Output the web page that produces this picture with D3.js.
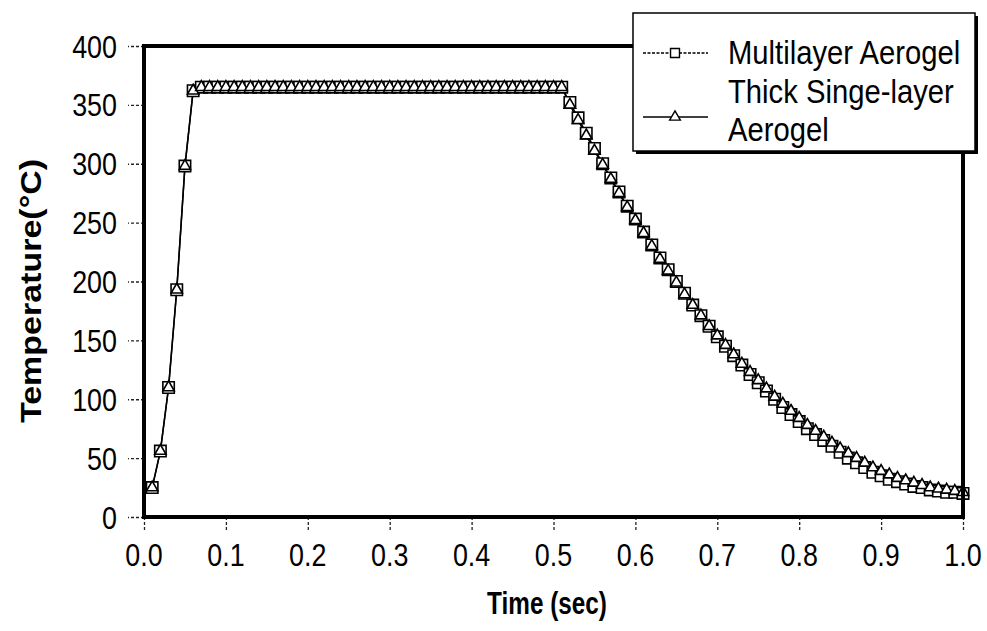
<!DOCTYPE html>
<html>
<head>
<meta charset="utf-8">
<script src="https://cdn.jsdelivr.net/npm/d3@7"></script>
<style>
  html, body { margin: 0; padding: 0; background: #fff; }
  svg { display: block; }
  text { font-family: "Liberation Sans", Arial, sans-serif; fill: #000; }
</style>
</head>
<body>
<svg id="chart" width="987" height="631"></svg>
<script>
// ---------- DATA ----------
const times = [
  0.01,0.02,0.03,0.04,0.05,0.06,0.07,0.08,0.09,0.10,
  0.11,0.12,0.13,0.14,0.15,0.16,0.17,0.18,0.19,0.20,
  0.21,0.22,0.23,0.24,0.25,0.26,0.27,0.28,0.29,0.30,
  0.31,0.32,0.33,0.34,0.35,0.36,0.37,0.38,0.39,0.40,
  0.41,0.42,0.43,0.44,0.45,0.46,0.47,0.48,0.49,0.50,
  0.51,0.52,0.53,0.54,0.55,0.56,0.57,0.58,0.59,0.60,
  0.61,0.62,0.63,0.64,0.65,0.66,0.67,0.68,0.69,0.70,
  0.71,0.72,0.73,0.74,0.75,0.76,0.77,0.78,0.79,0.80,
  0.81,0.82,0.83,0.84,0.85,0.86,0.87,0.88,0.89,0.90,
  0.91,0.92,0.93,0.94,0.95,0.96,0.97,0.98,0.99,1.00
];
const multilayer = [
  25,56,110,193,298,362,365,365,365,365,
  365,365,365,365,365,365,365,365,365,365,
  365,365,365,365,365,365,365,365,365,365,
  365,365,365,365,365,365,365,365,365,365,
  365,365,365,365,365,365,365,365,365,365,
  365,352,339,326,313,300,288,276,264,253,
  242,231,220,210,200,190,180,171,162,153,
  145,137,129,121,114,107,100,93,87,81,
  75,70,65,60,55,50,46,42,38,35,
  32,30,28,26,25,23,22,21,21,20
];
const thickSingle = [
  25,56,110,193,298,362,365,365,365,365,
  365,365,365,365,365,365,365,365,365,365,
  365,365,365,365,365,365,365,365,365,365,
  365,365,365,365,365,365,365,365,365,365,
  365,365,365,365,365,365,365,365,365,365,
  365,350,337,324,311,299,287,275,263,252,
  241,230,219,209,199,189,180,171,162,154,
  146,138,130,123,116,109,102,96,90,84,
  78,73,68,63,58,54,50,46,42,39,
  36,33,31,29,27,25,24,23,22,21
];
const xTicks = [0.0,0.1,0.2,0.3,0.4,0.5,0.6,0.7,0.8,0.9,1.0];
const yTicks = [0,50,100,150,200,250,300,350,400];
const seriesNames = ["Multilayer Aerogel", ["Thick Singe-layer", "Aerogel"]];
const xTitle = "Time (sec)";
const yTitle = "Temperature(°C)";

// ---------- LAYOUT ----------
const svg = d3.select("#chart");
const L = 144, R = 963, T = 46, B = 517;
const x = d3.scaleLinear().domain([0, 1]).range([L, R]);
const y = d3.scaleLinear().domain([0, 400]).range([B, T]);

function scaledText(parent, str, px, py, size, k, opts = {}) {
  return parent.append("text")
    .attr("transform", `translate(${px},${py})` + (opts.rotate ? ` rotate(${opts.rotate}) scale(1,${k})` : ` scale(${k},1)`))
    .attr("font-size", size)
    .attr("text-anchor", opts.anchor || "start")
    .attr("font-weight", opts.bold ? "bold" : "normal")
    .text(str);
}

// ---------- AXES ----------
const yAxis = d3.axisLeft(y).tickValues(yTicks).tickSize(16).tickFormat("");
const gy = svg.append("g").attr("transform", `translate(${L},0)`).call(yAxis);
gy.select(".domain").remove();
gy.selectAll(".tick line").attr("stroke", "#222").attr("stroke-width", 1.3).attr("stroke-dasharray", "3,2");

const xAxis = d3.axisBottom(x).tickValues(xTicks).tickSize(13).tickFormat("");
const gx = svg.append("g").attr("transform", `translate(0,${B})`).call(xAxis);
gx.select(".domain").remove();
gx.selectAll(".tick line").attr("stroke", "#222").attr("stroke-width", 1.3).attr("stroke-dasharray", "3,2");

// tick labels
yTicks.forEach(v => scaledText(svg, String(v), 117, y(v) + 11.5, 32, 0.84, { anchor: "end" }));
xTicks.forEach(v => scaledText(svg, v.toFixed(1), x(v), 566, 32, 0.84, { anchor: "middle" }));

// titles
scaledText(svg, xTitle, 547, 614, 32, 0.76, { anchor: "middle", bold: true });
scaledText(svg, yTitle, 41, 291, 34, 0.85, { anchor: "middle", bold: true, rotate: -90 });

// ---------- SERIES ----------
const line = d3.line().x(d => x(d[0])).y(d => y(d[1]));
const dataM = times.map((t, i) => [t, multilayer[i]]);
const dataT = times.map((t, i) => [t, thickSingle[i]]);

const plot = svg.append("g");
plot.append("path").datum(dataM).attr("d", line).attr("fill", "none").attr("stroke", "#000").attr("stroke-width", 1.5);
plot.append("path").datum(dataT).attr("d", line).attr("fill", "none").attr("stroke", "#000").attr("stroke-width", 1.5);

const sq = d3.symbol().type(d3.symbolSquare).size(130);
const tri = d3.symbol().type(d3.symbolTriangle).size(55);

plot.selectAll(".sq").data(dataM).enter().append("path")
  .attr("transform", d => `translate(${x(d[0])},${y(d[1])})`)
  .attr("d", sq).attr("fill", "#fff").attr("stroke", "#000").attr("stroke-width", 1.6);
plot.selectAll(".tri").data(dataT).enter().append("path")
  .attr("transform", d => `translate(${x(d[0])},${y(d[1])})`)
  .attr("d", tri).attr("fill", "#fff").attr("stroke", "#000").attr("stroke-width", 1.6);

// ---------- FRAME ----------
svg.append("rect").attr("x", L).attr("y", T).attr("width", R - L).attr("height", B - T)
  .attr("fill", "none").attr("stroke", "#000").attr("stroke-width", 4);

// ---------- LEGEND ----------
const lg = svg.append("g");
const lx = 633, ly = 13, lw = 342, lh = 138;
lg.append("rect").attr("x", lx + 3).attr("y", ly + 3).attr("width", lw).attr("height", lh).attr("fill", "#000");
lg.append("rect").attr("x", lx).attr("y", ly).attr("width", lw).attr("height", lh)
  .attr("fill", "#fff").attr("stroke", "#000").attr("stroke-width", 1.5);

const legendRows = [
  { ly: 53, textLines: [seriesNames[0]], textY: [64] },
  { ly: 117, textLines: seriesNames[1], textY: [103, 141] }
];
legendRows.forEach((r, i) => {
  lg.append("line").attr("x1", 643).attr("x2", 708).attr("y1", r.ly).attr("y2", r.ly)
    .attr("stroke", "#000").attr("stroke-width", 1.3).attr("stroke-dasharray", i === 0 ? "3,1.5" : null);
  lg.append("path").attr("transform", `translate(675,${r.ly})`)
    .attr("d", i === 0 ? d3.symbol().type(d3.symbolSquare).size(80) : d3.symbol().type(d3.symbolTriangle).size(50))
    .attr("fill", "#fff").attr("stroke", "#000").attr("stroke-width", 1.4);
  r.textLines.forEach((s, j) => scaledText(lg, s, 728, r.textY[j], 34, 0.86));
});
</script>
</body>
</html>
